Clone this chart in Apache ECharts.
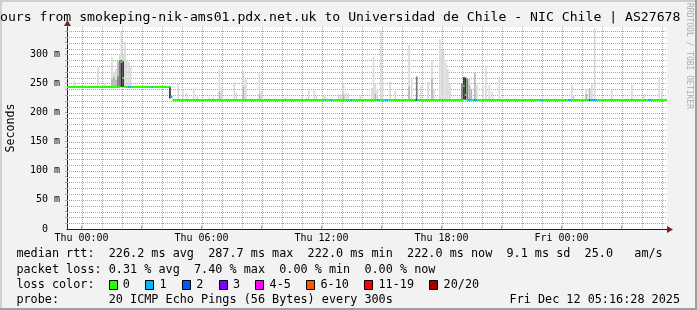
<!DOCTYPE html>
<html>
<head>
<meta charset="utf-8">
<script src="https://cdn.jsdelivr.net/npm/echarts@6/dist/echarts.min.js"></script>
<style>
html,body{margin:0;padding:0;background:#f2f2f2;}
#c{width:697px;height:310px;}
</style>
</head>
<body>
<div id="c"></div>
<script>
// ---------- data (hours relative to Thu 00:00, values in ms) ----------
const STEP_H = 5 / 60;                 // 300 s step
const X_MIN = -0.725, X_MAX = 29.275;  // 30 hour window
const Y_MIN = 0, Y_MAX = 347;

const xTickHours = [0, 6, 12, 18, 24];
const xTickLabels = ['Thu 00:00', 'Thu 06:00', 'Thu 12:00', 'Thu 18:00', 'Fri 00:00'];
const hourGrid = [0,1,2,3,4,5,6,7,8,9,10,11,12,13,14,15,16,17,18,19,20,21,22,23,24,25,26,27,28,29];
const yTickValues = [0, 50, 100, 150, 200, 250, 300];
const yGridValues = [10,20,30,40,50,60,70,80,90,100,110,120,130,140,150,160,170,180,190,200,210,220,230,240,250,260,270,280,290,300,310,320,330,340];

const titleText = '30 hours from smokeping-nik-ams01.pdx.net.uk to Universidad de Chile - NIC Chile | AS27678';

// median rtt segments: [startHour, endHour, medianMs, lostPings]
const medianSegments = [
  [-0.725, 1.95, 244.4, 0],
  [1.95, 2.04, 287.7, 0],
  [2.04, 2.12, 260, 0],
  [2.12, 2.30, 244.4, 0],
  [2.30, 2.47, 244.4, 1],
  [2.47, 3.48, 244.4, 0],
  [3.48, 3.60, 244.4, 1],
  [3.60, 4.38, 244.4, 0],
  [4.38, 4.46, 244.4, 1],
  [4.46, 4.55, 227, 1],
  [4.55, 12.15, 222, 0],
  [12.15, 12.23, 222, 1],
  [12.23, 12.40, 222, 0],
  [12.40, 12.56, 222, 1],
  [12.56, 13.40, 222, 0],
  [13.40, 13.56, 222, 1],
  [13.56, 14.78, 222, 0],
  [14.78, 14.95, 222, 1],
  [14.95, 15.14, 222, 0],
  [15.14, 15.36, 222, 1],
  [15.36, 16.69, 222, 0],
  [16.69, 16.78, 222, 2],
  [16.78, 19.08, 222, 0],
  [19.08, 19.16, 245, 0],
  [19.16, 19.24, 230, 0],
  [19.24, 19.31, 222, 0],
  [19.31, 19.48, 222, 1],
  [19.48, 19.56, 222, 0],
  [19.56, 19.81, 222, 1],
  [19.81, 22.92, 222, 0],
  [22.92, 23.06, 222, 1],
  [23.06, 24.31, 222, 0],
  [24.31, 24.48, 222, 1],
  [24.48, 25.36, 222, 0],
  [25.36, 25.44, 222, 2],
  [25.44, 25.81, 222, 1],
  [25.81, 28.31, 222, 0],
  [28.31, 28.48, 222, 1],
  [28.48, 29.275, 222, 0]
];

// smoke (ping spread) per step: [hour, lowMs, highMs, shade 1=light..4=dark]
const smokeSteps = [
  [-0.40, 244, 254, 1],
  [0.78, 244, 278, 1],
  [1.10, 244, 250, 1],
  [1.48, 244, 295, 1], [1.48, 244, 258, 2],
  [1.58, 244, 270, 1], [1.58, 244, 262, 2],
  [1.68, 244, 275, 1], [1.68, 244, 256, 2],
  [1.78, 244, 288, 2], [1.78, 244, 262, 3],
  [1.87, 244, 300, 1], [1.87, 244, 290, 3],
  [1.95, 244, 338, 1], [1.95, 244, 290, 4],
  [2.04, 244, 300, 1], [2.04, 244, 288, 4],
  [2.13, 244, 322, 1],
  [2.22, 244, 290, 1],
  [2.32, 244, 287, 1],
  [2.42, 244, 278, 1],
  [4.38, 224, 244, 4],
  [4.80, 222, 249, 1],
  [5.02, 222, 240, 1],
  [5.22, 222, 234, 1],
  [5.57, 222, 242, 1],
  [5.75, 222, 230, 1],
  [6.33, 222, 225, 1],
  [6.55, 222, 226, 1],
  [6.86, 222, 275, 1], [6.86, 222, 235, 2],
  [6.95, 222, 242, 1],
  [7.60, 222, 252, 1],
  [7.70, 222, 234, 1],
  [8.06, 222, 271, 1], [8.06, 222, 245, 2],
  [8.18, 222, 257, 1],
  [8.86, 222, 267, 1], [8.86, 222, 232, 2],
  [8.96, 222, 237, 1],
  [9.14, 222, 225, 1],
  [10.15, 222, 226, 1],
  [10.98, 222, 227, 1],
  [11.22, 222, 226, 1],
  [11.32, 222, 239, 1],
  [11.60, 222, 239, 1],
  [11.70, 222, 229, 1],
  [12.02, 222, 230, 1],
  [12.12, 222, 230, 1],
  [12.22, 222, 226, 1],
  [12.82, 222, 231, 1],
  [12.92, 222, 231, 1],
  [13.06, 222, 250, 1], [13.06, 222, 231, 2],
  [13.20, 222, 234, 1],
  [13.30, 222, 233, 1],
  [13.90, 222, 230, 1],
  [14.48, 222, 242, 1],
  [14.56, 222, 296, 1],
  [14.65, 222, 250, 1], [14.65, 222, 232, 2],
  [14.75, 222, 240, 1],
  [14.93, 222, 342, 1],
  [15.01, 222, 255, 1],
  [15.39, 222, 253, 1],
  [15.64, 222, 237, 1],
  [16.34, 222, 316, 1], [16.34, 222, 245, 2],
  [16.46, 222, 258, 1],
  [16.72, 222, 262, 3],
  [16.92, 222, 247, 1],
  [17.29, 222, 253, 1],
  [17.48, 222, 290, 1], [17.48, 222, 258, 2],
  [17.58, 222, 240, 1],
  [17.88, 222, 326, 1],
  [17.98, 222, 307, 1],
  [18.07, 222, 307, 1],
  [18.18, 222, 286, 1],
  [18.28, 222, 275, 1],
  [18.38, 222, 250, 1],
  [18.85, 222, 226, 1],
  [18.98, 222, 249, 3],
  [19.08, 222, 261, 4],
  [19.16, 222, 260, 4],
  [19.26, 222, 258, 3],
  [19.36, 222, 258, 1], [19.36, 222, 247, 2],
  [19.45, 222, 240, 2],
  [19.63, 222, 268, 2],
  [19.73, 222, 248, 1],
  [20.03, 222, 247, 1],
  [20.18, 222, 279, 1],
  [20.35, 222, 247, 1],
  [20.50, 222, 235, 1],
  [20.85, 222, 262, 1],
  [24.48, 222, 248, 1],
  [24.58, 222, 230, 1],
  [25.20, 222, 240, 1], [25.20, 222, 232, 2],
  [25.36, 222, 242, 2],
  [25.48, 222, 250, 1],
  [25.62, 222, 345, 1],
  [26.48, 222, 239, 1],
  [27.48, 222, 248, 1],
  [28.08, 222, 232, 1],
  [28.85, 222, 261, 1],
  [28.98, 222, 236, 1]
];

const lossLegend = ['0', '1', '2', '3', '4-5', '6-10', '11-19', '20/20'];
const lossColors = ['#26ff00', '#00b8ff', '#0059ff', '#7e00ff', '#ff00ff', '#ff5500', '#ff0000', '#a10000'];

const legendLine1 = 'median rtt:  226.2 ms avg  287.7 ms max  222.0 ms min  222.0 ms now  9.1 ms sd  25.0   am/s';
const legendLine2 = 'packet loss: 0.31 % avg  7.40 % max  0.00 % min  0.00 % now';
const legendLine3 = 'loss color:';
const legendLine4 = 'probe:       20 ICMP Echo Pings (56 Bytes) every 300s';
const stampText = 'Fri Dec 12 05:16:28 2025';
const yAxisTitle = 'Seconds';
const watermark = 'RRDTOOL / TOBI OETIKER';

// ---------- styling ----------
const MONO = 'DejaVu Sans Mono';
const SHADES = ['', '#d9d9d9', '#b4b4b4', '#7a7a7a', '#2e2e2e'];
const MINOR_GRID = '#a8a8a8';
const MAJOR_GRID = '#e88484';
const ARROW = '#801f1f';
const CW = 7.1; // legend char width

function lossIndex(n) {
  if (n <= 3) return n;
  if (n <= 5) return 4;
  if (n <= 10) return 5;
  if (n <= 19) return 6;
  return 7;
}

const chart = echarts.init(document.getElementById('c'), null, {renderer: 'canvas'});

const majorHours = hourGrid.filter(h => h % 3 === 0);
const minorHours = hourGrid.filter(h => h % 3 !== 0);
const majorY = yGridValues.filter(v => v % 50 === 0);
const minorY = yGridValues.filter(v => v % 50 !== 0);

function vGridSeries(hours, color, z) {
  return {
    type: 'custom', z: z, silent: true,
    data: hours.map(h => [h, 0]),
    encode: {x: 0, y: 1},
    renderItem: function (params, api) {
      const cs = params.coordSys;
      const x = Math.round(api.coord([api.value(0), 0])[0]) + 0.5;
      return {type: 'line', shape: {x1: x, y1: cs.y, x2: x, y2: cs.y + cs.height},
        style: {stroke: color, lineWidth: 1, lineDash: [1, 1]}};
    }
  };
}
function hGridSeries(values, color, z) {
  return {
    type: 'custom', z: z, silent: true,
    data: values.map(v => [X_MIN, v]),
    encode: {x: 0, y: 1},
    renderItem: function (params, api) {
      const cs = params.coordSys;
      const y = Math.round(api.coord([X_MIN, api.value(1)])[1]) + 0.5;
      return {type: 'line', shape: {x1: cs.x, y1: y, x2: cs.x + cs.width, y2: y},
        style: {stroke: color, lineWidth: 1, lineDash: [1, 1]}};
    }
  };
}

// legend graphics
const graphics = [];
// frame
graphics.push({type: 'rect', shape: {x: 0, y: 0, width: 697, height: 2}, style: {fill: '#cfcfcf'}, z: 100});
graphics.push({type: 'rect', shape: {x: 0, y: 0, width: 2, height: 310}, style: {fill: '#cfcfcf'}, z: 100});
graphics.push({type: 'rect', shape: {x: 0, y: 308, width: 697, height: 2}, style: {fill: '#9e9e9e'}, z: 100});
graphics.push({type: 'rect', shape: {x: 695, y: 0, width: 2, height: 310}, style: {fill: '#9e9e9e'}, z: 100});
// title
graphics.push({type: 'text', x: -31.6, y: 18, z: 100,
  style: {text: titleText, font: '13.15px "' + MONO + '"', fill: '#000', textAlign: 'left', textVerticalAlign: 'middle'}});
// watermark
graphics.push({type: 'text', x: 689, y: 3, rotation: -Math.PI / 2, z: 100,
  style: {text: watermark, font: '8px "' + MONO + '"', fill: '#acacac', textAlign: 'left', textVerticalAlign: 'middle'}});
// y axis title
graphics.push({type: 'text', x: 11, y: 128, rotation: Math.PI / 2, z: 100,
  style: {text: yAxisTitle, font: '11.6px "' + MONO + '"', fill: '#000', textAlign: 'center', textVerticalAlign: 'middle'}});
// arrows
graphics.push({type: 'polygon', shape: {points: [[667, 226], [673, 229.5], [667, 233]]}, style: {fill: ARROW}, z: 100});
graphics.push({type: 'polygon', shape: {points: [[64, 26], [67.5, 20], [71, 26]]}, style: {fill: ARROW}, z: 100});
// legend rows
const LX = 16.4;
[[legendLine1, 254], [legendLine2, 270], [legendLine3, 285], [legendLine4, 300]].forEach(function (r) {
  graphics.push({type: 'text', x: LX, y: r[1], z: 100,
    style: {text: r[0], font: '11.8px "' + MONO + '"', fill: '#000', textAlign: 'left', textVerticalAlign: 'middle'}});
});
graphics.push({type: 'text', x: 680, y: 300, z: 100,
  style: {text: stampText, font: '11.8px "' + MONO + '"', fill: '#000', textAlign: 'right', textVerticalAlign: 'middle'}});
let bx = LX + 13 * CW - 0.1;
lossLegend.forEach(function (lab, i) {
  graphics.push({type: 'rect', shape: {x: Math.round(bx) + 0.5, y: 280.5, width: 8, height: 9},
    style: {fill: lossColors[i], stroke: '#000', lineWidth: 1}, z: 100});
  const tx = bx + 14.2;
  graphics.push({type: 'text', x: tx, y: 285, z: 100,
    style: {text: lab, font: '11.8px "' + MONO + '"', fill: '#000', textAlign: 'left', textVerticalAlign: 'middle'}});
  bx = tx + lab.length * CW + 15.4;
});

const option = {
  animation: false,
  backgroundColor: '#f2f2f2',
  grid: {left: 67, right: 30, top: 27, bottom: 81, show: true, backgroundColor: '#ffffff', borderWidth: 0},
  xAxis: {
    type: 'value', min: X_MIN, max: X_MAX,
    axisLine: {show: true, onZero: false, lineStyle: {color: '#1f1f1f', width: 1}},
    axisTick: {show: true, customValues: majorHours, length: 3, inside: true, lineStyle: {color: MAJOR_GRID}},
    axisLabel: {
      customValues: xTickHours,
      formatter: function (v) { const i = xTickHours.indexOf(v); return i >= 0 ? xTickLabels[i] : ''; },
      fontFamily: MONO, fontSize: 10, color: '#000', margin: 4
    },
    splitLine: {show: false}
  },
  yAxis: {
    type: 'value', min: Y_MIN, max: Y_MAX,
    axisLine: {show: true, onZero: false, lineStyle: {color: '#1f1f1f', width: 1}},
    axisTick: {show: true, customValues: yGridValues, length: 2, lineStyle: {color: MINOR_GRID}},
    axisLabel: {
      customValues: yTickValues,
      formatter: function (v) { return v === 0 ? '0  ' : v + ' m'; },
      fontFamily: MONO, fontSize: 10, color: '#000', margin: 7
    },
    splitLine: {show: false}
  },
  graphic: {elements: graphics},
  series: [
    hGridSeries(minorY, MINOR_GRID, 1),
    vGridSeries(minorHours, MINOR_GRID, 1),
    hGridSeries(majorY, MAJOR_GRID, 2),
    vGridSeries(majorHours, MAJOR_GRID, 2),
    {
      type: 'custom', z: 3, silent: true,
      data: smokeSteps,
      encode: {x: 0, y: [1, 2]},
      renderItem: function (params, api) {
        const t = api.value(0), lo = api.value(1), hi = api.value(2), s = api.value(3);
        const p0 = api.coord([t, hi]);
        const p1 = api.coord([t + STEP_H, lo]);
        return {type: 'rect', shape: {x: p0[0], y: p0[1], width: p1[0] - p0[0], height: p1[1] - p0[1]},
          style: {fill: SHADES[s]}};
      }
    },
    {
      type: 'custom', z: 4, silent: true,
      data: medianSegments,
      encode: {x: [0, 1], y: 2},
      renderItem: function (params, api) {
        const t0 = api.value(0), t1 = api.value(1), m = api.value(2), lost = api.value(3);
        const p0 = api.coord([t0, m]);
        const p1 = api.coord([t1, m]);
        return {type: 'rect', shape: {x: p0[0], y: Math.round(p0[1]) - 1, width: p1[0] - p0[0], height: 2},
          style: {fill: lossColors[lossIndex(lost)]}};
      }
    }
  ]
};
chart.setOption(option);
</script>
</body>
</html>
